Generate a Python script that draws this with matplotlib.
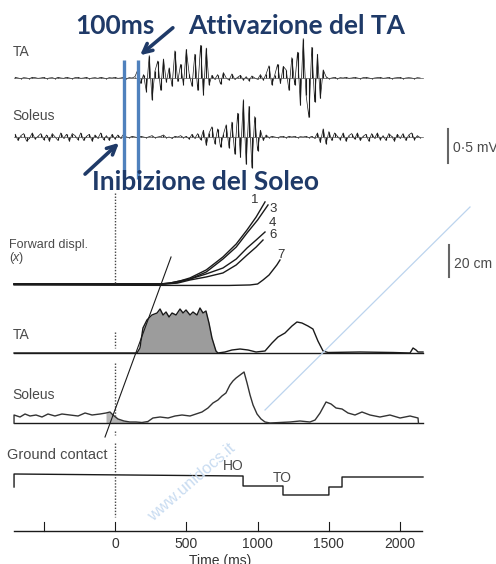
import numpy as np
import matplotlib.pyplot as plt

plt.rcParams['font.family'] = ['Liberation Sans', 'DejaVu Sans']

# ---- data (time in ms) ----
t_raw = np.arange(-700, 2160, 20)

# raw EMG, mV
ta_raw = [0.01, 0, -0.01, 0.005, 0, -0.01, 0.01, 0.005, -0.005, 0,
          0.01, -0.01, 0, 0.005, -0.01, 0.01, 0, -0.005, 0.01, 0,
          -0.01, 0.005, 0.01, -0.005, 0, 0.01, -0.01, 0, 0.005, -0.005,
          0.01, 0, -0.01, 0.005, 0, 0.01, -0.005, 0, 0.01, -0.01,
          0.005, 0, 0.02,
          0.12, -0.08, 0.05, -0.20, 0.33, -0.32, 0.10, 0.25, -0.18, 0.28,
          -0.06, 0.15, -0.12, 0.40, -0.05, 0.20, -0.10, 0.42, 0.06, -0.12,
          0.35, -0.18, 0.48, -0.25, 0.44, -0.10,
          0.04, -0.02, 0.05, -0.09, 0.08, 0, -0.03, 0.06, -0.02, 0.01,
          0.04, -0.03, 0.02, -0.04, 0.03, 0, -0.02, 0.05, -0.03, 0.06,
          0.18, -0.10, 0.04, 0.20, -0.08, 0.17,
          0.12, -0.18, 0.30, -0.10, 0.38, -0.40, 0.58, -0.25, -0.58, 0.45,
          -0.35, 0.35, -0.30, 0.12,
          0.02, -0.01, 0, 0.01, -0.01, 0.005, 0, 0.01, -0.005, 0,
          0.01, 0, -0.01, 0.005, 0.01, 0, -0.01, 0, 0.005, 0.01,
          -0.005, 0, 0.01, -0.01, 0, 0.005, 0.01, -0.01, 0, 0.005,
          0, -0.01, 0.005, 0]

sol_raw = [0.04, -0.05, 0.02, 0.05, -0.06, -0.02, 0.06, -0.03, 0.01, 0.05,
           -0.04, 0.03, -0.06, 0.05, 0.00, -0.05, 0.06, -0.02, 0.04, -0.06,
           0.05, 0.02, -0.04, 0.06, -0.05, 0.01, 0.04, -0.06, 0.03, -0.02,
           0.06, -0.04, 0.02, -0.05, 0.04, -0.03,
           0.03, -0.02, 0.04, 0, -0.01, 0.01, 0,
           -0.01, 0.01, 0, -0.01, 0.005, 0.02, -0.01, 0, 0.01, 0.03,
           -0.01, 0, -0.02, 0.01, 0, 0.02, -0.01, 0.01, -0.03, 0.04,
           -0.02, 0.05, -0.04,
           0.10, -0.12, 0.06, 0.15, -0.10, 0.12, -0.15, 0.04, 0.18, -0.16, 0.22,
           -0.25, 0.35, -0.30, 0.55, -0.40, 0.45, -0.45, 0.30, -0.20,
           0.10, -0.05, 0.03,
           -0.01, 0.01, 0, -0.01, 0.005, 0.01, -0.01, 0.01, 0, 0.01,
           -0.01, 0.005, 0, 0.01, -0.01, 0.01, -0.02,
           0.06, -0.08, 0.12, -0.10, 0.08,
           -0.05, 0.06, 0.01, -0.04, 0.06, -0.06, 0.02, 0.05, -0.03, 0.06,
           -0.05, 0.01, 0.04, -0.06, 0.05, -0.02, 0.06, -0.04, 0.02, -0.05,
           0.05, 0.01, -0.06, 0.04, -0.02, 0.05, -0.05, 0.03, 0.06, -0.04,
           0.02, -0.01]

# forward displacement, cm
d1_t = [-708, 316, 386, 456, 526, 640, 757, 850, 926, 990, 1052]
d1 = [0, 0, 0.6, 1.9, 3.8, 8.8, 16.9, 25, 33.8, 41.9, 51.3]
d3_t = [-708, 316, 386, 456, 526, 640, 757, 850, 926, 1000, 1073]
d3 = [0, 0, 0.6, 1.9, 3.1, 7.5, 15.6, 23.1, 31.9, 40, 49.4]
d4_t = [-708, 330, 420, 526, 640, 757, 850, 926, 990, 1052]
d4 = [0, 0, 0.6, 3.1, 6.3, 10, 15.6, 22.5, 27.5, 32.5]
d6_t = [-708, 350, 440, 526, 640, 757, 850, 926, 990, 1038]
d6 = [0, 0, 0.6, 2.5, 4.4, 6.9, 11.9, 18.1, 23.1, 27.5]
d7_t = [-708, 500, 800, 947, 1000, 1038, 1080, 1108, 1135, 1157]
d7 = [-0.6, -0.9, -0.9, -0.6, 0, 2.5, 5.6, 8.8, 11.9, 15]
disp_curves = [(d1_t, d1, '1'), (d3_t, d3, '3'), (d4_t, d4, '4'),
               (d6_t, d6, '6'), (d7_t, d7, '7')]

# rectified / smoothed EMG (arbitrary units)
ta_env_t = [-708, 154, 175, 196, 224, 259, 295, 316, 337, 358,
            379, 400, 428, 456, 477, 498, 526, 547, 575, 596,
            617, 638, 659, 680, 708, 722, 771, 820, 877, 933,
            989, 1052, 1101, 1143, 1192, 1241, 1276, 1311, 1353, 1388,
            1423, 1459, 1494, 1718, 1950, 2069, 2090, 2111, 2125, 2160]
ta_env = [0, 0, 5, 25, 33, 38, 40, 44, 38, 41,
          36, 40, 38, 44, 40, 43, 38, 41, 38, 45,
          40, 42, 30, 15, 2, 0, 1, 3, 4, 3,
          1, 2, 10, 16, 20, 27, 31, 30, 27, 24,
          12, 2, 0.5, 1, 0.5, 0, 5, 3, 1, 1]

sol_env_t = [-708, -708, -666, -631, -596, -554, -512, -470, -421, -372, -316,
             -259, -210, -161, -105, -63, -35, -14, 21, 63, 105,
             147, 189, 231, 266, 316, 372, 421, 470, 526, 568,
             610, 652, 687, 722, 750, 778, 806, 827, 849, 877,
             905, 926, 947, 968, 996, 1024, 1052, 1087, 1157, 1227,
             1297, 1367, 1403, 1438, 1480, 1515, 1550, 1592, 1634, 1683,
             1732, 1788, 1858, 1928, 1999, 2069, 2125, 2128]
sol_env = [0, 8, 6, 9, 7, 8, 6, 9, 7, 9, 8,
           7, 10, 8, 9, 10, 11, 8, 4, 2, 1,
           1, 0.5, 1.5, 5, 6, 5, 7, 8, 7, 9,
           11, 15, 20, 23, 27, 30, 38, 42, 45, 48,
           51, 40, 28, 18, 9, 4, 1, 0, 0.5, 1,
           2, 1, 3, 10, 21, 19, 15, 14, 10, 8,
           11, 8, 6, 8, 5, 7, 5, 0]

# ground contact steps (HO = heel off, TO = toe off)
gc_t = [-708, -708, 898, 898, 1178, 1178, 1500, 1500, 1592, 1592, 2160]
gc_level = [13, 26, 24, 14, 14, 5, 5, 13, 13, 23, 23]

tick_ms = [-500, 0, 500, 1000, 1500, 2000]
tick_labels = ['', '0', '500', '1000', '1500', '2000']

marker_ms = [60, 160]          # blue lines, 100 ms apart
latency_t = [393, -70]
latency_y = [257, 437]

# ---- layout ----
T0, T1 = -708, 2160
ms_per_px = 1 / 0.1426
y_ta, y_sol, y_disp = 78, 137, 284
y_taenv, y_solenv, y_gc, y_axis = 353, 423, 500, 531
mv_px, cm_px = 68, 1.6
ink = '#1a1a1a'
grey_txt = '#4a4a4a'
navy = '#1f3a68'

fig = plt.figure(figsize=(4.96, 5.64), dpi=100)
ax = fig.add_axes([0, 0, 1, 1])
ax.set_xlim(-115 * ms_per_px, (496 - 115) * ms_per_px)
ax.set_ylim(564, 0)
ax.axis('off')

# raw EMG: thin trace plus a stroke per sample
for base, sig in [(y_ta, np.array(ta_raw)), (y_sol, np.array(sol_raw))]:
    ax.plot(t_raw, base - sig * mv_px, color=ink, lw=0.5)
    ax.vlines(t_raw, base, base - sig * mv_px, color=ink, lw=0.8)
    ax.plot([T0, T1], [base, base], color='#555555', lw=0.5)

for tt, dd, lab in disp_curves:
    ax.plot(tt, y_disp - np.array(dd) * cm_px, color=ink, lw=1.0)

ax.plot([T0, T1], [y_taenv, y_taenv], color=ink, lw=1.0)
ax.plot(ta_env_t, y_taenv - np.array(ta_env), color=ink, lw=1.0)
ax.fill_between(ta_env_t[:27], y_taenv, y_taenv - np.array(ta_env[:27]),
                color='#9c9c9c', lw=0)

ax.plot([T0, T1], [y_solenv, y_solenv], color=ink, lw=1.0)
ax.plot(sol_env_t, y_solenv - np.array(sol_env), color='#333333', lw=1.0)
ax.fill_between(sol_env_t[15:24], y_solenv, y_solenv - np.array(sol_env[15:24]),
                color='#b5b5b5', lw=0)

ax.plot(gc_t, y_gc - np.array(gc_level), color=ink, lw=1.0)

# time axis
ax.plot([T0, T1 - 10], [y_axis, y_axis], color=ink, lw=1.0)
for tk, lb in zip(tick_ms, tick_labels):
    ax.plot([tk, tk], [y_axis, y_axis - 9], color=ink, lw=0.8)
    ax.text(tk, y_axis + 13, lb, ha='center', va='center', fontsize=10, color='#333333')
ax.text(735, 561, 'Time (ms)', ha='center', va='center', fontsize=10, color='#333333')

# zero line (dotted)
for y0, y1 in [(193, 284), (332, 348), (363, 417), (431, 435), (443, 517)]:
    ax.plot([0, 0], [y0, y1], color='#444444', lw=1.0, ls=(0, (1, 1.2)))

ax.plot(latency_t, latency_y, color=ink, lw=0.8)

# scale bars
ax.plot([2335, 2335], [129, 129 + 0.5 * mv_px], color='#666666', lw=1.5)
ax.plot([2342, 2342], [245, 245 + 20 * cm_px], color='#666666', lw=1.5)

for m in marker_ms:
    ax.plot([m, m], [60, 179], color='#4f81bd', lw=2.4, solid_capstyle='butt')

# ---- text / annotations in pixel space ----
ov = fig.add_axes([0, 0, 1, 1])
ov.set_xlim(0, 496)
ov.set_ylim(564, 0)
ov.axis('off')
ov.patch.set_alpha(0)

# watermark
ov.plot([470, 265], [207, 410], color='#bcd4ee', lw=0.9)
ov.text(192, 482, 'www.unidocs.it', rotation=41, ha='center', va='center',
        fontsize=12, color='#c9dcf1')

lab = dict(fontsize=10, color=grey_txt, va='center')
ov.text(13, 52, 'TA', **lab)
ov.text(12, 116, 'Soleus', **lab)
ov.text(453, 148, '0·5 mV', **lab)
ov.text(9, 245, 'Forward displ.', fontsize=9, color=grey_txt, va='center')
ov.text(9, 258, '(', fontsize=9, color=grey_txt, va='center')
ov.text(13, 258, 'x', style='italic', fontsize=9, color=grey_txt, va='center')
ov.text(19, 258, ')', fontsize=9, color=grey_txt, va='center')
ov.text(454, 264, '20 cm', **lab)
ov.text(13, 335, 'TA', **lab)
ov.text(12, 395, 'Soleus', **lab)
ov.text(7, 455, 'Ground contact', fontsize=10.5, color=grey_txt, va='center')
ov.text(233, 466, 'HO', ha='center', fontsize=10, color=grey_txt, va='center')
ov.text(282, 478, 'TO', ha='center', fontsize=10, color=grey_txt, va='center')
for x, y, s in [(255, 200, '1'), (273, 209, '3'), (272, 223, '4'),
                (273, 235, '6'), (281, 255, '7')]:
    ov.text(x, y, s, ha='center', va='center', fontsize=9.5, color='#333333')

big = dict(fontsize=19, fontweight='bold', color=navy, va='center',
           family=['Lato', 'DejaVu Sans'])
ov.text(75, 26, '100ms', **big)
ov.text(188, 26, 'Attivazione del TA', **big)
ov.text(92, 182, 'Inibizione del Soleo', **big)
arr = dict(arrowstyle='->', color=navy, lw=2.6, mutation_scale=16)
ov.annotate('', xy=(138, 57), xytext=(175, 26), arrowprops=arr)
ov.annotate('', xy=(121, 141), xytext=(83, 176), arrowprops=arr)

fig.savefig('out.png', dpi=100)
